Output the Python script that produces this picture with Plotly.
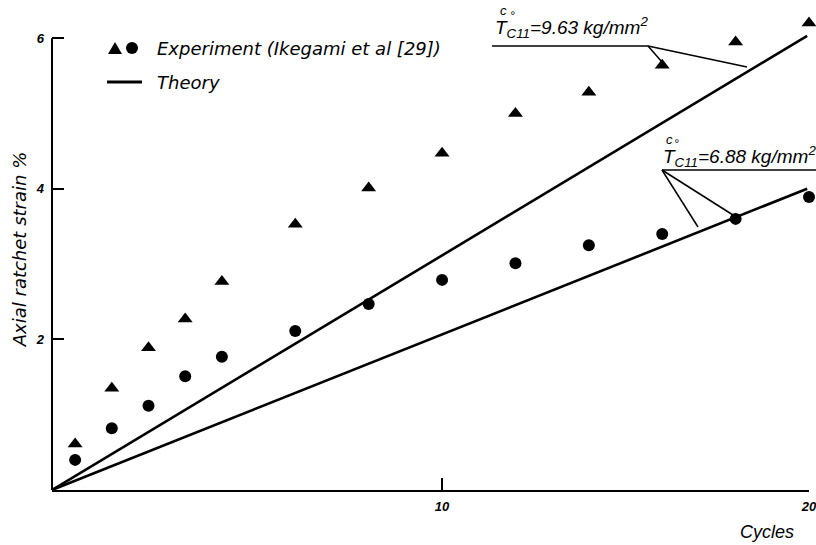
import plotly.graph_objects as go

# ---- data ----
cycles = [0, 1, 2, 3, 4, 6, 8, 10, 12, 14, 16, 18, 20]
strain_triangle = [0.61, 1.35, 1.89, 2.27, 2.77, 3.53, 4.01, 4.47, 5.00, 5.28, 5.64, 5.95, 6.20]
strain_circle = [0.40, 0.82, 1.12, 1.51, 1.77, 2.11, 2.47, 2.79, 3.01, 3.25, 3.40, 3.60, 3.89]
theory_x = [-0.63, 19.95]
theory_upper = [0.0, 6.03]   # tau = 9.63 kg/mm2
theory_lower = [0.0, 4.00]   # tau = 6.88 kg/mm2
x_tick_vals = [10, 20]
y_tick_vals = [2, 4, 6]
y_axis_top = 6

W, H = 816, 545
L, R, T, B = 52, 7, 8, 55
PW, PH = W - L - R, H - T - B


def px(x):
    return (x - L) / PW


def py(y):
    return (H - B - y) / PH


FONT = "Liberation Sans, Arial, sans-serif"
FONT2 = "DejaVu Sans, Liberation Sans, sans-serif"

fig = go.Figure()
fig.add_trace(go.Scatter(x=theory_x, y=theory_upper, mode="lines",
                         line=dict(color="black", width=2.6), showlegend=False,
                         cliponaxis=False))
fig.add_trace(go.Scatter(x=theory_x, y=theory_lower, mode="lines",
                         line=dict(color="black", width=2.6), showlegend=False,
                         cliponaxis=False))
fig.add_trace(go.Scatter(x=cycles, y=strain_triangle, mode="markers",
                         marker=dict(symbol="triangle-up", size=13, color="black"),
                         showlegend=False, cliponaxis=False))
fig.add_trace(go.Scatter(x=cycles, y=strain_circle, mode="markers",
                         marker=dict(symbol="circle", size=12, color="black"),
                         showlegend=False, cliponaxis=False))

shapes = []
# y axis line drawn only up to the top tick
shapes.append(dict(type="line", xref="paper", yref="y", x0=0, x1=0, y0=0, y1=y_axis_top,
                   line=dict(color="black", width=2)))
# custom legend symbols
shapes.append(dict(type="path", xref="paper", yref="paper",
                   path=f"M {px(108)},{py(54)} L {px(122)},{py(54)} L {px(115)},{py(42)} Z",
                   fillcolor="black", line=dict(width=0)))
shapes.append(dict(type="circle", xref="paper", yref="paper",
                   x0=px(126), x1=px(138), y0=py(54), y1=py(42),
                   fillcolor="black", line=dict(width=0)))
shapes.append(dict(type="line", xref="paper", yref="paper",
                   x0=px(107), x1=px(142), y0=py(82), y1=py(82),
                   line=dict(color="black", width=3)))
# leader lines
leaders = [
    ((492, 46), (648, 46)), ((648, 46), (747, 67)), ((648, 46), (662, 62)),
    ((662, 170), (816, 170)), ((662, 170), (698, 227)), ((662, 170), (733, 215)),
]
for (x0, y0), (x1, y1) in leaders:
    shapes.append(dict(type="line", xref="paper", yref="paper",
                       x0=px(x0), y0=py(y0), x1=px(x1), y1=py(y1),
                       line=dict(color="black", width=1.5)))

annotations = []


def ann(text, x, y, size, xanchor="left", yanchor="middle", family=FONT, xshift=0):
    annotations.append(dict(text=text, x=px(x), y=py(y), xref="paper", yref="paper",
                            xanchor=xanchor, yanchor=yanchor, showarrow=False, xshift=xshift,
                            font=dict(family=family, size=size, color="black", style="italic")))


ann("Experiment (Ikegami et al [29])", 155, 48, 18, family=FONT2)
ann("Theory", 155, 82, 18, family=FONT2)
ann("Cycles", 767, 532, 18, xanchor="center")
# tau labels
ann("T<sub>C11</sub>=9.63 kg/mm<sup>2</sup>", 650, 28, 19, xanchor="right")
ann("c", 650, 11, 13, xshift=-152)
ann("°", 650, 16, 12, xshift=-142)
ann("T<sub>C11</sub>=6.88 kg/mm<sup>2</sup>", 661, 156, 19)
ann("c", 664, 139, 13)
ann("°", 672, 144, 12)

fig.update_layout(
    width=W, height=H,
    margin=dict(l=L, r=R, t=T, b=B, autoexpand=False),
    paper_bgcolor="white", plot_bgcolor="white",
    shapes=shapes, annotations=annotations,
    showlegend=False,
    font=dict(family=FONT, color="black"),
)
fig.update_xaxes(range=[-0.63, 20], showgrid=False, zeroline=False, automargin=False,
                 showline=True, linecolor="black", linewidth=2,
                 ticks="inside", ticklen=12, tickwidth=2, tickcolor="black",
                 tickvals=x_tick_vals, ticklabelstandoff=3, ticklabeloverflow="allow",
                 tickfont=dict(family=FONT, size=13, style="italic", weight="bold"))
fig.update_yaxes(range=[0, 6.4], showgrid=False, zeroline=False, automargin=False,
                 showline=False,
                 ticks="inside", ticklen=12, tickwidth=2, tickcolor="black",
                 tickvals=y_tick_vals, ticklabelstandoff=7, ticklabeloverflow="allow",
                 tickfont=dict(family=FONT, size=13, style="italic", weight="bold"),
                 title=dict(text="Axial ratchet strain %", standoff=4,
                            font=dict(family=FONT2, size=18, style="italic")))

fig.write_html("out.html", config={"displayModeBar": False},
               post_script="document.body.style.margin='0px';document.body.style.overflow='hidden';")
